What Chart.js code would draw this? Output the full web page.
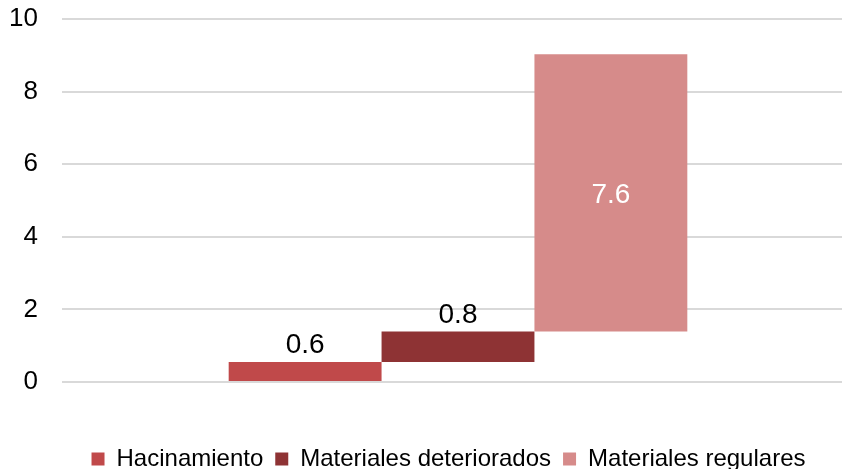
<!DOCTYPE html>
<html lang="es">
<head>
  <meta charset="UTF-8" />
  <title>Waterfall</title>
  <style>
    html, body { margin: 0; padding: 0; background: #fff; }
    #wrap { width: 844px; height: 469px; }
  </style>
</head>
<body>
  <div id="wrap"><canvas id="myChart" width="844" height="469"></canvas></div>

  <script src="https://cdn.jsdelivr.net/npm/chart.js"></script>
  <script>
    // datos
    const seriesNames = ['Hacinamiento', 'Materiales deteriorados', 'Materiales regulares'];
    const increments = [0.55, 0.84, 7.64];
    const yTicks = [0, 2, 4, 6, 8, 10];

    const colors = ['#C0494A', '#8E3334', '#D68B8A'];
    const labelInside = [false, false, true];

    // cascada: cada barra empieza donde termina la anterior
    let acc = 0;
    const datasets = seriesNames.map((name, i) => {
      const start = acc;
      acc += increments[i];
      return {
        label: name,
        data: [[start, acc]],
        backgroundColor: colors[i],
        borderWidth: 0,
        categoryPercentage: 0.588,
        barPercentage: 1.0
      };
    });

    const FONT = "'Liberation Sans', Arial, sans-serif";

    const valueLabels = {
      id: 'valueLabels',
      afterLayout(chart) {
        // en el original el grupo de barras y la leyenda van algo a la derecha
        chart.legend.left += 23;
        chart.legend.right += 23;
        const x = chart.scales.x;
        x.left += 6;
        x.right += 6;
        x.configure();
      },
      afterDatasetsDraw(chart) {
        const ctx = chart.ctx;
        ctx.save();
        ctx.font = '28px ' + FONT;
        ctx.textAlign = 'center';
        chart.data.datasets.forEach((ds, i) => {
          const bar = chart.getDatasetMeta(i).data[0];
          const txt = increments[i].toFixed(1);
          if (labelInside[i]) {
            ctx.fillStyle = '#ffffff';
            ctx.textBaseline = 'middle';
            ctx.fillText(txt, bar.x, (bar.y + bar.base) / 2 + 2);
          } else {
            ctx.fillStyle = '#000000';
            ctx.textBaseline = 'alphabetic';
            ctx.fillText(txt, bar.x, bar.y - 9);
          }
        });
        ctx.restore();
      }
    };

    new Chart(document.getElementById('myChart'), {
      type: 'bar',
      data: { labels: [''], datasets: datasets },
      plugins: [valueLabels],
      options: {
        responsive: false,
        animation: false,
        events: [],
        layout: { padding: { left: 9, right: 2, top: 19, bottom: -12 } },
        plugins: {
          tooltip: { enabled: false },
          legend: {
            position: 'bottom',
            labels: {
              font: { family: FONT, size: 24 },
              color: '#000',
              boxWidth: 13,
              boxHeight: 13,
              padding: 12
            }
          }
        },
        scales: {
          x: {
            ticks: { display: false },
            grid: { display: false },
            border: { display: false },
            afterFit: (axis) => { axis.height = 53; }
          },
          y: {
            min: yTicks[0],
            max: yTicks[yTicks.length - 1],
            afterBuildTicks: (axis) => { axis.ticks = yTicks.map(v => ({ value: v })); },
            afterFit: (axis) => {
              axis.width = 53;
              axis.paddingTop = 0;
              axis.paddingBottom = 0;
            },
            ticks: {
              font: { family: FONT, size: 26 },
              color: '#000',
              padding: 24
            },
            grid: { color: '#d9d9d9', lineWidth: 2, drawTicks: false },
            border: { display: false }
          }
        }
      }
    });
  </script>
</body>
</html>
